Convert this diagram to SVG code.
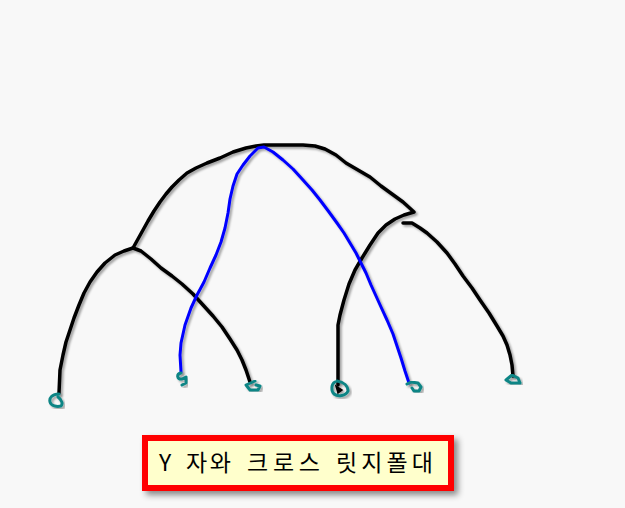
<svg xmlns="http://www.w3.org/2000/svg" width="625" height="508" viewBox="0 0 625 508">
<defs>
<filter id="sh" x="-10%" y="-10%" width="130%" height="130%">
<feDropShadow dx="2" dy="2" stdDeviation="1.2" flood-color="#000" flood-opacity="0.35"/>
</filter>
<filter id="boxsh" x="-10%" y="-20%" width="130%" height="160%">
<feDropShadow dx="4" dy="4" stdDeviation="3" flood-color="#000" flood-opacity="0.45"/>
</filter>
</defs>
<style>
.k{fill:none;stroke:#000;stroke-width:3.5;stroke-linejoin:round;stroke-linecap:round}
.b{fill:none;stroke:#0000ff;stroke-width:3;stroke-linejoin:round;stroke-linecap:round}
.t{fill:none;stroke:#0e8585;stroke-width:3;stroke-linejoin:round;stroke-linecap:round}
.lbl{font-family:"Noto Sans CJK KR","Liberation Sans",sans-serif;font-size:23px;fill:#000}
</style>
<rect width="625" height="508" fill="#f8f8f8"/>
<g id="connectors" filter="url(#sh)">
<polyline class="k" points="59,393 60,370 63,355 66,342 70,330 74,318 79,305 84,293 90,282 97,272 105,263 115,255 124,251 133,248"/>
<polyline class="k" points="133,248 138,239 143,230 148,221 154,211 160,202 166,194 172,187 179,180 187,173 196,168 207,163 220,158 233,152 246,148 256,146 264,145 303,145 315,146 325,149 336,155 346,163 358,170 370,177 381,186 392,194 403,202 414,212 404,215 395,219 386,225 378,233 370,245 362,258 355,270 349,284 344,300 340,315 338,325 338,385"/>
<polyline class="k" points="133,248 141,251 151,259 161,268 172,276 182,284 193,294 203,305 213,316 222,327 230,339 237,350 242,360 246,370 250,382"/>
<polyline class="k" points="403,223 412,223 420,228 427,233 437,242 447,253 455,264 463,276 472,288 480,300 489,313 497,326 503,336 507,345 510,355 512,365 513,376"/>
<polyline class="b" points="181,372 180,355 181,343 185,325 191,308 197,295 204,282 210,268 216,255 221,242 225,228 228,213 230,199 233,186 237,174 243,165 250,156 258,148 264,147 273,152 283,160 293,169 303,180 312,190 320,200 329,212 337,223 344,233 350,243 356,253 361,263 366,273 371,285 376,296 381,307 387,320 393,334 397,346 401,358 405,371 409,383"/>
</g>
<g id="end1" filter="url(#sh)"><path class="t" d="M59,394 C52,394 49,398 50,402 C51,406 57,407 61,406 C63,404 62,400 58,397"/></g>
<g id="end2" filter="url(#sh)"><path class="t" d="M181,373 C176,374 177,380 182,379 L186,377 L186,383 L182,385"/></g>
<g id="end3" filter="url(#sh)"><path class="t" d="M255,381 L246,385 L250,390 L258,390 L260,386 L256,385"/></g>
<g id="end4" filter="url(#sh)"><path class="t" d="M335,382 C331,384 331,391 334,394 C338,397 346,396 348,391 C348,386 344,382 337,381"/><path d="M336,386 L342,390 L338,393 Z" fill="#000" stroke="#000" stroke-width="1.5"/></g>
<g id="end5" filter="url(#sh)"><path class="t" d="M407,384 L411,382 L418,383 L421,387 L419,391 L414,391 L412,388"/></g>
<g id="end6" filter="url(#sh)"><path class="t" d="M512,375 L506,380 L511,383 L520,383 L518,378 Z"/></g>
<g id="label">
<rect x="145" y="438" width="306" height="50" fill="#ffffcc" stroke="#ff0000" stroke-width="6" filter="url(#boxsh)"/>
<text class="lbl" x="159" y="471">Y</text>
<text class="lbl" x="186" y="471" textLength="45" lengthAdjust="spacing">자와</text>
<text class="lbl" x="247" y="471" textLength="73" lengthAdjust="spacing">크로스</text>
<text class="lbl" x="336" y="471" textLength="97" lengthAdjust="spacing">릿지폴대</text>
</g>
</svg>
